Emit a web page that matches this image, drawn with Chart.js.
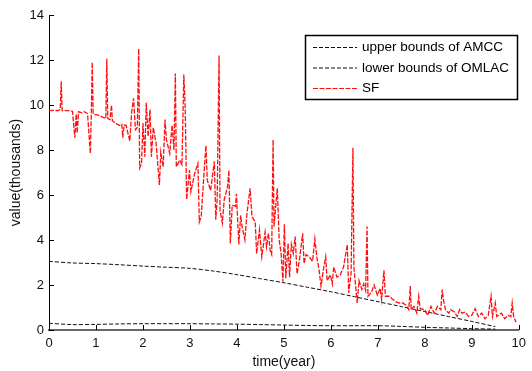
<!DOCTYPE html>
<html>
<head>
<meta charset="utf-8">
<script src="https://cdn.jsdelivr.net/npm/chart.js@4/dist/chart.umd.min.js"></script>
<style>
  body { margin: 0; background: #fff; }
  #wrap { width: 532px; height: 371px; }
</style>
</head>
<body>
<div id="wrap"><canvas id="myChart" width="532" height="371"></canvas></div>
<script>
// bound curves (thousands) sampled over time in years
const boundTime = [0, 0.5, 1, 1.5, 2, 2.5, 3, 3.5, 4, 4.5, 5, 5.5, 6, 6.5, 7, 7.5, 8, 8.5, 9, 9.5];
const amccUpper = [3.05, 2.98, 2.95, 2.9, 2.84, 2.79, 2.74, 2.62, 2.46, 2.28, 2.1, 1.9, 1.7, 1.48, 1.26, 1.04, 0.82, 0.6, 0.38, 0.15];
const omlacLower = [0.3, 0.24, 0.25, 0.27, 0.28, 0.28, 0.28, 0.27, 0.26, 0.24, 0.22, 0.2, 0.19, 0.19, 0.19, 0.16, 0.12, 0.09, 0.06, 0.04];

// SF observations
const sfTime = [
  0.00, 0.10, 0.20, 0.24, 0.26, 0.28, 0.40, 0.50, 0.55, 0.58, 0.60, 0.63, 0.70, 0.75, 0.82, 0.88, 0.90, 0.92, 0.94,
  1.05, 1.15, 1.21, 1.23, 1.25, 1.30, 1.33, 1.35, 1.45, 1.50, 1.55, 1.57, 1.60, 1.64, 1.72, 1.76, 1.80, 1.84, 1.88, 1.91, 1.93, 1.97,
  2.00, 2.04, 2.07, 2.11, 2.15, 2.18, 2.22, 2.28, 2.35, 2.38, 2.43, 2.47, 2.50, 2.57, 2.62, 2.66, 2.69, 2.71, 2.78, 2.83, 2.87, 2.90, 2.93, 2.99,
  3.02, 3.10, 3.17, 3.20, 3.24, 3.29, 3.34, 3.37, 3.44, 3.52, 3.55, 3.58, 3.62, 3.64, 3.69, 3.73, 3.80, 3.83, 3.86, 3.90, 3.97, 3.99,
  4.04, 4.08, 4.11, 4.17, 4.21, 4.28, 4.32, 4.39, 4.42, 4.48, 4.53, 4.60, 4.63, 4.67, 4.71, 4.74, 4.77, 4.79, 4.86, 4.90, 4.94, 4.98,
  5.01, 5.04, 5.09, 5.12, 5.16, 5.20, 5.24, 5.28, 5.33, 5.40, 5.43, 5.47, 5.54, 5.61, 5.66, 5.70, 5.75, 5.79, 5.85, 5.89, 5.92, 5.99,
  6.03, 6.06, 6.13, 6.20, 6.27, 6.35, 6.38, 6.43, 6.47, 6.49, 6.56, 6.60, 6.66, 6.70, 6.74, 6.77, 6.79, 6.87, 6.92, 6.99,
  7.05, 7.08, 7.13, 7.16, 7.25, 7.32, 7.39, 7.46, 7.53, 7.60, 7.66, 7.69, 7.71, 7.77, 7.83, 7.87, 7.90,
  8.00, 8.06, 8.13, 8.20, 8.27, 8.34, 8.37, 8.40, 8.44, 8.51, 8.55, 8.63, 8.69, 8.74, 8.79, 8.86, 8.93,
  9.00, 9.07, 9.14, 9.21, 9.28, 9.35, 9.41, 9.44, 9.50, 9.53, 9.63, 9.70, 9.77, 9.83, 9.86, 9.89, 9.94
];
const sfValue = [
  9.75, 9.76, 9.75, 9.8, 11.05, 9.75, 9.75, 9.72, 8.55, 9.6, 8.75, 9.7, 9.65, 9.7, 9.62, 7.85, 9.6, 11.9, 9.6,
  9.55, 9.45, 9.4, 12.05, 9.4, 9.35, 10.0, 9.3, 9.15, 9.1, 9.15, 8.55, 9.1, 9.1, 8.4, 9.7, 10.3, 8.9, 9.0, 12.5, 7.2, 7.4,
  9.2, 7.7, 10.1, 8.6, 9.8, 7.7, 9.0, 8.3, 6.45, 7.9, 7.25, 9.35, 8.45, 7.85, 9.1, 8.0, 11.4, 7.25, 7.55, 7.35, 11.35, 9.8, 5.8, 7.1,
  6.15, 6.95, 7.4, 4.8, 5.05, 6.65, 8.2, 6.65, 6.2, 7.5, 4.9, 5.8, 12.2, 5.35, 4.75, 5.8, 6.35, 7.1, 3.85, 5.55, 5.5, 6.05,
  3.8, 5.1, 4.6, 4.0, 5.1, 6.3, 5.05, 4.8, 3.4, 4.45, 3.25, 4.35, 3.7, 4.3, 3.5, 3.35, 8.45, 4.6, 6.3, 4.0, 3.4, 2.15,
  4.7, 2.3, 3.85, 2.35, 3.8, 3.4, 4.15, 2.5, 3.1, 4.3, 2.95, 3.35, 3.25, 3.05, 4.05, 3.25, 2.65, 1.95, 2.8, 3.25, 2.2, 2.45,
  2.05, 2.8, 2.35, 2.45, 2.8, 3.8, 1.65, 2.5, 8.1, 2.8, 1.2, 2.2, 1.8, 2.05, 1.75, 4.6, 1.5, 1.7, 2.0, 1.55,
  1.85, 1.35, 2.65, 1.5, 1.5, 1.35, 1.25, 1.2, 1.2, 1.1, 0.9, 1.95, 0.9, 1.05, 0.75, 1.5, 0.95,
  0.9, 0.65, 1.05, 0.75, 1.05, 0.9, 1.8, 1.3, 0.9, 0.75, 0.9, 0.8, 0.6, 0.9, 0.75, 0.8, 0.6,
  0.65, 0.95, 0.6, 0.75, 0.5, 0.65, 1.5, 0.6, 1.2, 0.6, 0.75, 0.5, 0.65, 0.6, 1.2, 0.6, 0.35
];

const xTicks = [0, 1, 2, 3, 4, 5, 6, 7, 8, 9, 10];
const yTicks = [0, 2, 4, 6, 8, 10, 12, 14];

const seriesNames = ['upper bounds of AMCC', 'lower bounds of OMLAC', 'SF'];

function pairs(xs, ys) {
  return xs.map((x, i) => ({ x: x, y: ys[i] }));
}

const family = 'Liberation Sans, Arial, sans-serif';
const tickFont = { family: family, size: 13 };
const titleFont = { family: family, size: 14 };

// short tick marks pointing into the plot, plus a boxed legend in the upper right
const inwardTicks = {
  id: 'inwardTicks',
  afterDraw(chart) {
    const ctx = chart.ctx;
    const xs = chart.scales.x, ys = chart.scales.y;
    ctx.save();
    ctx.strokeStyle = '#000';
    ctx.lineWidth = 1;
    ctx.beginPath();
    xTicks.forEach(v => {
      const px = Math.round(xs.getPixelForValue(v)) + 0.5;
      ctx.moveTo(px, ys.bottom);
      ctx.lineTo(px, ys.bottom - 5);
    });
    yTicks.forEach(v => {
      const py = Math.round(ys.getPixelForValue(v)) + 0.5;
      ctx.moveTo(xs.left, py);
      ctx.lineTo(xs.left + 5, py);
    });
    ctx.stroke();

    // legend
    const bx = 305.5, by = 35.5, bw = 212, bh = 64;
    ctx.fillStyle = '#fff';
    ctx.fillRect(bx, by, bw, bh);
    ctx.lineWidth = 1.5;
    ctx.strokeStyle = '#000';
    ctx.strokeRect(bx, by, bw, bh);
    ctx.font = '13.5px ' + family;
    ctx.textBaseline = 'middle';
    chart.data.datasets.forEach((ds, i) => {
      const ry = 47.5 + i * 20.5;
      ctx.beginPath();
      ctx.setLineDash(ds.borderDash);
      ctx.strokeStyle = ds.borderColor;
      ctx.lineWidth = 1;
      ctx.moveTo(313, ry);
      ctx.lineTo(357, ry);
      ctx.stroke();
      ctx.setLineDash([]);
      ctx.fillStyle = '#000';
      ctx.fillText(ds.label, 362, ry);
    });
    ctx.restore();
  }
};

new Chart(document.getElementById('myChart'), {
  type: 'line',
  data: {
    datasets: [
      {
        label: seriesNames[0],
        data: pairs(boundTime, amccUpper),
        borderColor: '#111',
        borderWidth: 1,
        borderDash: [4, 2],
        tension: 0.3,
        pointRadius: 0,
        order: 2
      },
      {
        label: seriesNames[1],
        data: pairs(boundTime, omlacLower),
        borderColor: '#111',
        borderWidth: 1,
        borderDash: [4, 2],
        tension: 0.3,
        pointRadius: 0,
        order: 1
      },
      {
        label: seriesNames[2],
        data: pairs(sfTime, sfValue),
        borderColor: '#ff1010',
        borderWidth: 1.3,
        borderDash: [5, 1.5],
        pointRadius: 0,
        order: 0
      }
    ]
  },
  options: {
    responsive: false,
    animation: false,
    devicePixelRatio: 1,
    layout: { padding: { top: 15, right: 6, left: 0, bottom: 0 } },
    plugins: { legend: { display: false }, tooltip: { enabled: false } },
    scales: {
      x: {
        type: 'linear',
        min: 0, max: 10,
        afterBuildTicks: s => { s.ticks = xTicks.map(v => ({ value: v })); },
        afterFit: s => { s.height = 41; },
        grid: { display: true, drawOnChartArea: false, drawTicks: false },
        border: { color: '#666', width: 2 },
        ticks: { font: tickFont, color: '#111', padding: 6, maxRotation: 0 },
        title: { display: true, text: 'time(year)', font: titleFont, color: '#111', padding: 0 }
      },
      y: {
        min: 0, max: 14,
        afterBuildTicks: s => { s.ticks = yTicks.map(v => ({ value: v })); },
        afterFit: s => { s.width = 49; },
        grid: { display: true, drawOnChartArea: false, drawTicks: false },
        border: { color: '#000', width: 1 },
        ticks: { font: tickFont, color: '#111', padding: 5 },
        title: { display: true, text: 'value(thousands)', font: titleFont, color: '#111', padding: { top: 8, bottom: 0 } }
      }
    }
  },
  plugins: [inwardTicks]
});
</script>
</body>
</html>
